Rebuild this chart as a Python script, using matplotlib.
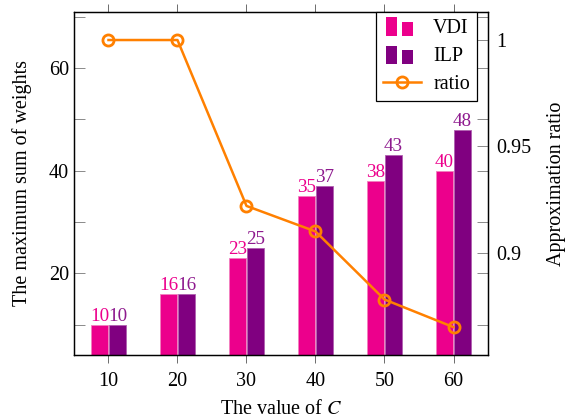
import matplotlib
matplotlib.use("Agg")
import matplotlib.pyplot as plt
from matplotlib.patches import Rectangle
from matplotlib.legend_handler import HandlerBase
import numpy as np

plt.rcParams['font.family'] = ['Liberation Serif', 'DejaVu Serif']
plt.rcParams['mathtext.fontset'] = 'stix'

# data
c_values = [10, 20, 30, 40, 50, 60]
vdi = [10, 16, 23, 35, 38, 40]
ilp = [10, 16, 25, 37, 43, 48]
ratio = [1.0, 1.0, 0.922, 0.910, 0.878, 0.865]

magenta = '#EC008C'
purple = '#800080'
orange = '#FF8000'
fs = 14.5


class TwoBars(HandlerBase):
    # ybar-style legend icon: two small bars
    def create_artists(self, legend, orig, xd, yd, w, h, fs, trans):
        col = orig.get_facecolor()
        bw = w * 0.3
        r1 = Rectangle((xd + w * 0.08, yd - h * 0.2), bw, h * 1.3, facecolor=col,
                       edgecolor='none', transform=trans)
        r2 = Rectangle((xd + w * 0.5, yd - h * 0.2), bw, h * 1.0, facecolor=col,
                       edgecolor='none', transform=trans)
        return [r1, r2]


fig = plt.figure(figsize=(5.66, 4.19), dpi=100)
ax = fig.add_axes([0.1307, 0.1527, 0.7315, 0.8193])
ax2 = ax.twinx()

x = np.array(c_values)
bw = 2.5
b1 = ax.bar(x - bw / 2 - 0.05, vdi, bw, color=magenta, edgecolor='#F27FBF', linewidth=0.6,
            label='VDI', zorder=2)
b2 = ax.bar(x + bw / 2 + 0.05, ilp, bw, color=purple, edgecolor='#B060B0', linewidth=0.6,
            label='ILP', zorder=2)
ax.bar_label(b1, labels=[str(v) for v in vdi], color=magenta, fontsize=13.8, padding=0)
ax.bar_label(b2, labels=[str(v) for v in ilp], color='#8E1A8E', fontsize=13.8, padding=0)

ln, = ax2.plot(x, ratio, color=orange, lw=1.8, marker='o', ms=8, mfc='none', mew=2,
               label='ratio', zorder=3)

ax.set_xlim(5, 65)
ax.set_ylim(4.1, 71)
ax2.set_ylim(0.8519, 1.0133)

ax.set_xticks(c_values)
ax.set_yticks([20, 40, 60])
ax.set_yticks([10, 30, 50, 70], minor=True)
ax.tick_params(axis='x', direction='out', top=True, length=6, width=0.6, color='#555555',
               labelsize=fs, pad=6)
ax.tick_params(axis='y', which='both', direction='in', left=True, right=True, length=8,
               width=0.6, color='#777777', labelsize=fs)
ax2.set_yticks([0.9, 0.95, 1.0])
ax2.set_yticklabels(['0.9', '0.95', '1'])
ax2.tick_params(axis='y', direction='in', length=8, width=0.6, color='#777777',
                labelsize=fs, pad=6)

for a in (ax, ax2):
    for s in a.spines.values():
        s.set_linewidth(0.9)

ax.set_xlabel('The value of $C$', fontsize=fs, labelpad=7)
ax.set_ylabel('The maximum sum of weights', fontsize=fs, labelpad=12)
ax2.set_ylabel('Approximation ratio', fontsize=fs, labelpad=11)

leg = ax2.legend([b1[0], b2[0], ln], ['VDI', 'ILP', 'ratio'], loc='upper right',
                 bbox_to_anchor=(0.9734, 1.0), fontsize=fs, frameon=True, fancybox=False,
                 edgecolor='black', framealpha=1, borderpad=0.35, handlelength=1.9,
                 handletextpad=0.6, labelspacing=0.45, borderaxespad=0,
                 handler_map={Rectangle: TwoBars()})
leg.get_frame().set_linewidth(0.9)
leg.set_zorder(5)

fig.savefig('out.png', dpi=100)
